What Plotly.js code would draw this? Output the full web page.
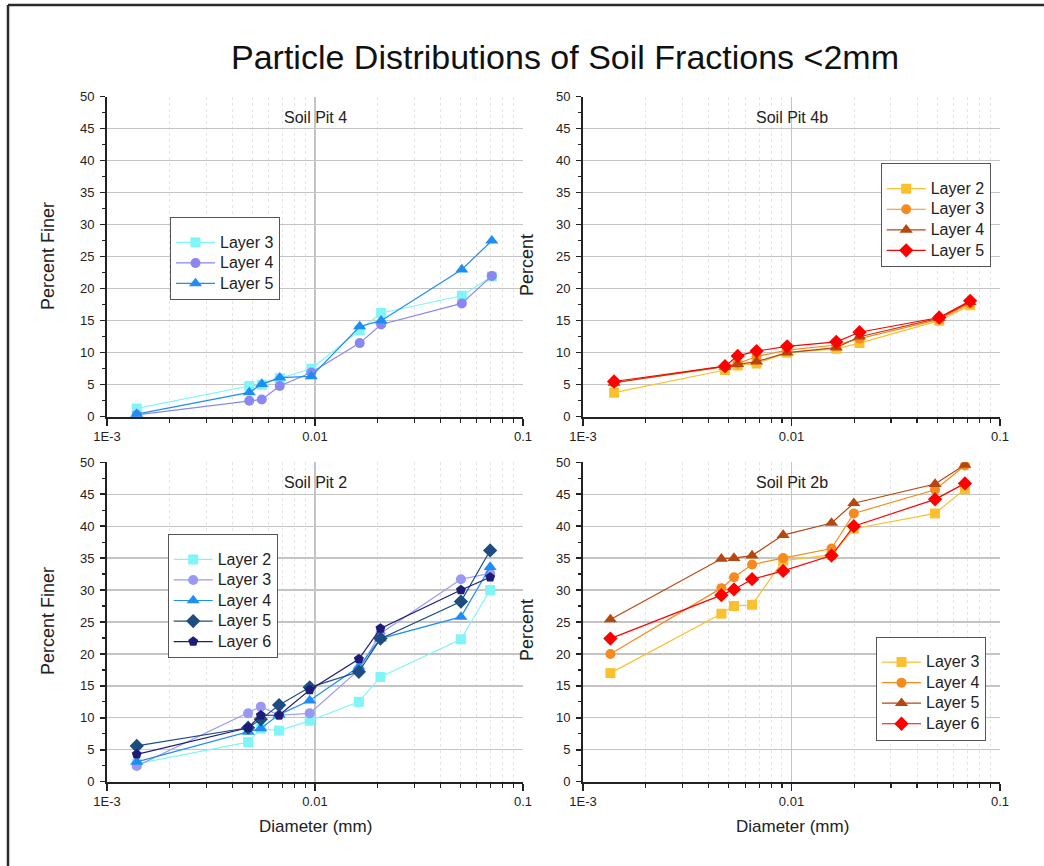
<!DOCTYPE html>
<html>
<head>
<meta charset="utf-8">
<script src="https://cdn.plot.ly/plotly-3.0.1.min.js"></script>
<style>
  html, body { margin: 0; padding: 0; background: #ffffff; }
  #chart { width: 1044px; height: 866px; }
</style>
</head>
<body>
<div id="chart"></div>
<script>
// Hydrometer diameters (mm) for each soil pit
const diamPit4  = [0.00139, 0.00483, 0.00555, 0.00677, 0.0096, 0.0164, 0.0208, 0.0508, 0.0708];
const diamPit4b = [0.00141, 0.0048, 0.00552, 0.0068, 0.00953, 0.0164, 0.0212, 0.0511, 0.0719];
const diamPit2  = [0.00139, 0.00477, 0.00549, 0.00672, 0.00943, 0.01625, 0.02064, 0.0503, 0.0695];
const diamPit2b = [0.001353, 0.00461, 0.0053, 0.00647, 0.00912, 0.01556, 0.0199, 0.0488, 0.0679];

// Percent finer, Soil Pit 4
const pit4Layer3 = [1.3, 4.8, 5.0, 6.0, 7.5, 13.5, 16.2, 18.9, 21.9];
const pit4Layer4 = [0.3, 2.5, 2.7, 4.8, 6.9, 11.5, 14.4, 17.7, 22.0];
const pit4Layer5 = [0.4, 3.8, 5.1, 6.1, 6.3, 14.1, 15.0, 23.0, 27.5];

// Percent, Soil Pit 4b
const pit4bLayer2 = [3.75, 7.3, 8.0, 8.3, 10.0, 10.6, 11.5, 15.0, 17.4];
const pit4bLayer3 = [5.3, 7.8, 8.3, 9.4, 10.4, 11.2, 12.2, 15.2, 17.7];
const pit4bLayer4 = [5.3, 7.8, 8.2, 8.6, 10.0, 10.8, 12.5, 15.4, 17.9];
const pit4bLayer5 = [5.5, 7.9, 9.5, 10.25, 11.0, 11.7, 13.2, 15.5, 18.1];

// Percent finer, Soil Pit 2
const pit2Layer2 = [2.8, 6.2, 8.3, 8.0, 9.55, 12.5, 16.4, 22.3, 30.0];
const pit2Layer3 = [2.45, 10.7, 11.75, 10.4, 10.7, 17.5, 23.2, 31.7, 32.6];
const pit2Layer4 = [3.1, 7.8, 8.35, 10.5, 12.7, 18.0, 22.4, 25.8, 33.6];
const pit2Layer5 = [5.6, 8.45, 9.76, 12.0, 14.77, 17.2, 22.4, 28.2, 36.2];
const pit2Layer6 = [4.28, 8.45, 10.4, 10.4, 14.35, 19.2, 24.0, 30.0, 32.0];

// Percent, Soil Pit 2b
const pit2bLayer3 = [17.0, 26.3, 27.5, 27.7, 34.6, 35.5, 39.6, 42.0, 45.8];
const pit2bLayer4 = [20.0, 30.3, 32.0, 34.0, 35.0, 36.5, 42.0, 45.7, 49.5];
const pit2bLayer5 = [25.4, 34.9, 35.0, 35.4, 38.6, 40.5, 43.6, 46.6, 49.6];
const pit2bLayer6 = [22.4, 29.2, 30.1, 31.7, 33.0, 35.4, 40.0, 44.2, 46.7];

// Axis tick labels
const xTickVals = [0.001, 0.01, 0.1];
const xTickText = ['1E-3', '0.01', '0.1'];
const xMinorVals = [];
[0.001, 0.01].forEach(d => { for (let k = 2; k <= 9; k++) xMinorVals.push(+(d * k).toPrecision(3)); });

const FONT = 'Liberation Sans, Arial, sans-serif';
const INK = '#222222';
const symbolSize = { 'square': 10, 'circle': 10, 'triangle-up': 11.5, 'diamond': 11, 'pentagon': 10.5 };

function series(x, y, name, color, symbol, xa, ya, legend) {
  return {
    type: 'scatter', mode: 'lines+markers', x: x, y: y,
    name: '<span style="font-size:16px">' + name + '</span>',
    xaxis: xa, yaxis: ya, legend: legend,
    line: { color: color, width: 1.2 },
    marker: { color: color, symbol: symbol, size: symbolSize[symbol], line: { width: 0 } }
  };
}

const cyan = '#7ff5f7', lilac = '#8a86f2', azure = '#1e8df5', steel = '#1d4d80', navy = '#1d1d78';
const gold = '#fbc02d', orange = '#f58a1f', rust = '#b5470f', red = '#ff0000';

const traces = [
  series(diamPit4, pit4Layer3, 'Layer 3', cyan, 'square', 'x', 'y', 'legend'),
  series(diamPit4, pit4Layer4, 'Layer 4', lilac, 'circle', 'x', 'y', 'legend'),
  series(diamPit4, pit4Layer5, 'Layer 5', azure, 'triangle-up', 'x', 'y', 'legend'),

  series(diamPit4b, pit4bLayer2, 'Layer 2', gold, 'square', 'x2', 'y2', 'legend2'),
  series(diamPit4b, pit4bLayer3, 'Layer 3', orange, 'circle', 'x2', 'y2', 'legend2'),
  series(diamPit4b, pit4bLayer4, 'Layer 4', rust, 'triangle-up', 'x2', 'y2', 'legend2'),
  series(diamPit4b, pit4bLayer5, 'Layer 5', red, 'diamond', 'x2', 'y2', 'legend2'),

  series(diamPit2, pit2Layer2, 'Layer 2', cyan, 'square', 'x3', 'y3', 'legend3'),
  series(diamPit2, pit2Layer3, 'Layer 3', '#9a98f5', 'circle', 'x3', 'y3', 'legend3'),
  series(diamPit2, pit2Layer4, 'Layer 4', azure, 'triangle-up', 'x3', 'y3', 'legend3'),
  series(diamPit2, pit2Layer5, 'Layer 5', steel, 'diamond', 'x3', 'y3', 'legend3'),
  series(diamPit2, pit2Layer6, 'Layer 6', navy, 'pentagon', 'x3', 'y3', 'legend3'),

  series(diamPit2b, pit2bLayer3, 'Layer 3', gold, 'square', 'x4', 'y4', 'legend4'),
  series(diamPit2b, pit2bLayer4, 'Layer 4', orange, 'circle', 'x4', 'y4', 'legend4'),
  series(diamPit2b, pit2bLayer5, 'Layer 5', rust, 'triangle-up', 'x4', 'y4', 'legend4'),
  series(diamPit2b, pit2bLayer6, 'Layer 6', red, 'diamond', 'x4', 'y4', 'legend4')
];

function xAxis(domain, anchor) {
  return {
    type: 'log', domain: domain, anchor: anchor, range: [-3, -1],
    tickmode: 'array', tickvals: xTickVals, ticktext: xTickText,
    ticks: 'outside', ticklen: 7, tickwidth: 1.5, tickcolor: INK,
    showline: true, linecolor: INK, linewidth: 2,
    showgrid: true, gridcolor: '#c4c4c4', gridwidth: 1.3, zeroline: false,
    tickfont: { family: FONT, size: 13, color: INK },
    minor: { tickmode: 'array', tickvals: xMinorVals, ticks: 'outside', ticklen: 4, tickwidth: 1.2,
             tickcolor: INK, showgrid: true, gridcolor: '#e4e4e4', griddash: 'dot', gridwidth: 1 }
  };
}
function yAxis(domain, anchor) {
  return {
    domain: domain, anchor: anchor, range: [0, 50], tickmode: 'linear', tick0: 0, dtick: 5,
    ticks: 'outside', ticklen: 5, tickwidth: 1.5, tickcolor: INK,
    showline: true, linecolor: INK, linewidth: 2,
    showgrid: true, gridcolor: '#c4c4c4', gridwidth: 1.3, zeroline: false,
    tickfont: { family: FONT, size: 13, color: INK }, ticklabelstandoff: 3,
    minor: { dtick: 2.5, ticks: 'outside', ticklen: 3, tickwidth: 1.2, tickcolor: INK, showgrid: false }
  };
}

const xLeft = [107 / 1044, 523 / 1044], xRight = [583 / 1044, 1000 / 1044];
const yTop = [1 - 416.7 / 866, 1 - 96.7 / 866], yBottom = [1 - 781.7 / 866, 1 - 462.3 / 866];

function legendBox(x, y) {
  return {
    x: x, y: y, xanchor: 'left', yanchor: 'top', xref: 'paper', yref: 'paper',
    bgcolor: '#ffffff', bordercolor: '#555555', borderwidth: 1, itemwidth: 39,
    font: { family: FONT, size: 13.5, color: INK },
    title: { text: ' ', font: { size: 7 } }
  };
}

function label(text, x, y, size, angle) {
  return {
    text: text, x: x, y: y, xref: 'paper', yref: 'paper', showarrow: false,
    xanchor: 'center', yanchor: 'middle', textangle: angle || 0,
    font: { family: FONT, size: size, color: INK }
  };
}

const layout = {
  width: 1044, height: 866,
  margin: { l: 0, r: 0, t: 0, b: 0 },
  paper_bgcolor: '#ffffff', plot_bgcolor: '#ffffff',
  font: { family: FONT, color: INK },
  showlegend: true,
  title: { text: 'Particle Distributions of Soil Fractions <2mm', x: 565 / 1044, xanchor: 'center',
           y: 1 - 57 / 866, yanchor: 'middle', font: { family: FONT, size: 34, color: '#111111' } },
  xaxis: xAxis(xLeft, 'y'), yaxis: yAxis(yTop, 'x'),
  xaxis2: xAxis(xRight, 'y2'), yaxis2: yAxis(yTop, 'x2'),
  xaxis3: xAxis(xLeft, 'y3'), yaxis3: yAxis(yBottom, 'x3'),
  xaxis4: xAxis(xRight, 'y4'), yaxis4: yAxis(yBottom, 'x4'),
  legend: legendBox(170 / 1044, 1 - 217 / 866),
  legend2: legendBox(880.7 / 1044, 1 - 163.3 / 866),
  legend3: legendBox(167.7 / 1044, 1 - 534 / 866),
  legend4: legendBox(876 / 1044, 1 - 636.7 / 866),
  annotations: [
    label('Soil Pit 4', 315 / 1044, 1 - 117 / 866, 16),
    label('Soil Pit 4b', 792 / 1044, 1 - 117 / 866, 16),
    label('Soil Pit 2', 315 / 1044, 1 - 483 / 866, 16),
    label('Soil Pit 2b', 792 / 1044, 1 - 483 / 866, 16),
    label('Diameter (mm)', 315 / 1044, 1 - 826 / 866, 17),
    label('Diameter (mm)', 792 / 1044, 1 - 826 / 866, 17),
    label('Percent Finer', 48 / 1044, 1 - 256 / 866, 18, -90),
    label('Percent Finer', 48 / 1044, 1 - 621 / 866, 18, -90),
    label('Percent', 527 / 1044, 1 - 265 / 866, 18, -90),
    label('Percent', 527 / 1044, 1 - 630 / 866, 18, -90)
  ],
  shapes: [
    { type: 'line', xref: 'paper', yref: 'paper', x0: 8 / 1044, x1: 8 / 1044, y0: 0, y1: 1 - 5 / 866,
      line: { color: '#2a2a2a', width: 2.5 } },
    { type: 'line', xref: 'paper', yref: 'paper', x0: 8 / 1044, x1: 1, y0: 1 - 5 / 866, y1: 1 - 5 / 866,
      line: { color: '#2a2a2a', width: 2.5 } }
  ]
};

Plotly.newPlot('chart', traces, layout, { staticPlot: true, displayModeBar: false });
</script>
</body>
</html>
